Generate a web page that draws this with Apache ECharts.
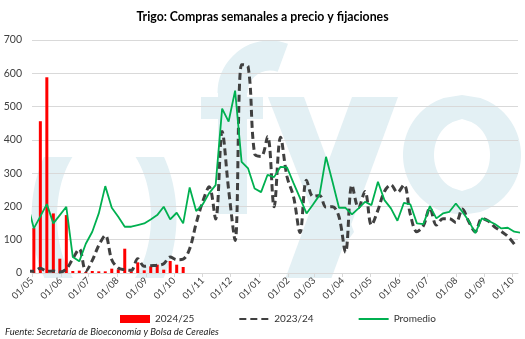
<!DOCTYPE html>
<html><head><meta charset="utf-8">
<script src="https://cdn.jsdelivr.net/npm/echarts@6/dist/echarts.min.js"></script>
<style>html,body{margin:0;padding:0;background:#fff}#c{width:525px;height:339px}</style>
</head><body><div id="c"></div>
<script>
// ---- data ----
const titleText = 'Trigo: Compras semanales a precio y fijaciones';
const sourceText = 'Fuente: Secretaría de Bioeconomía y Bolsa de Cereales';
const seriesNames = ['2024/25', '2023/24', 'Promedio'];
// weekly points start on this date (first point sits just before the axis start)
const firstWeek = '2024-04-26';
// 2024/25 bars, weekly from 2024-05-03
const bars2425 = [135, 456, 588, 179, 43, 174, 6, 7, 3, 6, 5, 5, 13, 11, 73, 5, 32, 8, 20, 25, 10, 36, 25, 18];
// 2023/24 dashed line, weekly from 2024-04-26
const line2324 = [6, 5, 14, 5, 6, 3, 12, 43, 72, 6, 38, 83, 113, 40, 15, 10, 8, 43, 20, 22, 23, 28, 48, 40, 42,
  73, 149, 214, 259, 162, 425, 250, 98, 626, 620, 358, 350, 410, 199, 408, 289, 229, 122, 279, 230, 233, 198,
  199, 169, 62, 264, 196, 245, 144, 189, 245, 265, 242, 265, 175, 124, 142, 195, 144, 163, 163, 152, 192, 154,
  124, 164, 156, 138, 125, 110, 87];
// Promedio line, weekly from 2024-04-26
const promedio = [210, 134, 170, 207, 149, 174, 199, 48, 35, 88, 124, 179, 261, 196, 169, 139, 139, 144, 149,
  161, 174, 199, 161, 181, 149, 257, 186, 206, 240, 264, 494, 455, 548, 334, 314, 254, 243, 295, 288, 319, 317,
  270, 225, 179, 206, 234, 349, 274, 196, 196, 176, 194, 214, 204, 274, 219, 194, 157, 211, 206, 149, 147, 201,
  164, 179, 184, 209, 184, 156, 120, 164, 157, 147, 134, 136, 124, 121];
const tickDates = ['2024-05-01','2024-06-01','2024-07-01','2024-08-01','2024-09-01','2024-10-01','2024-11-01',
  '2024-12-01','2025-01-01','2025-02-01','2025-03-01','2025-04-01','2025-05-01','2025-06-01','2025-07-01',
  '2025-08-01','2025-09-01','2025-10-01'];
const tickLabels = ['01/05','01/06','01/07','01/08','01/09','01/10','01/11','01/12','01/01','01/02','01/03',
  '01/04','01/05','01/06','01/07','01/08','01/09','01/10'];
const yTicks = [0, 100, 200, 300, 400, 500, 600, 700];

// ---- helpers ----
const DAY = 86400000;
const T0 = Date.UTC(2024, 4, 1);
function dayNum(y, m, d){ return Math.round((Date.UTC(y, m, d) - T0) / DAY); }
function ds(s){ const p = s.split('-').map(Number); return dayNum(p[0], p[1]-1, p[2]); }
const W0 = ds(firstWeek);
function weekDay(i){ return W0 + 7*i; }
const tickVals = tickDates.map(ds);
const labelMap = {}; tickVals.forEach((v,i)=>{ labelMap[v] = tickLabels[i]; });
const barData = bars2425.map((v,i)=>[weekDay(i+1), v]);
const dashData = line2324.map((v,i)=>[weekDay(i), v]);
const avgData = promedio.map((v,i)=>[weekDay(i), v]);

// watermark (decorative) ellipse bands
const WM = '#e3f0f4';
function band(cx, cy, a, b, a0, b0, yTop, yBot, side){
  const y0 = Math.max(yTop, cy-b), y1 = Math.min(yBot, cy+b);
  const pts = [], n = 40;
  for (let k=0;k<=n;k++){ const y=y0+(y1-y0)*k/n; const d=(y-cy)/b; pts.push([cx+side*a*Math.sqrt(Math.max(0,1-d*d)), y]); }
  for (let k=n;k>=0;k--){ const y=y0+(y1-y0)*k/n; const d=(y-cy)/b0; const h = Math.abs(d)<1 ? a0*Math.sqrt(1-d*d) : 0; pts.push([cx+side*h, y]); }
  return {type:'polygon', z:-10, silent:true, shape:{points:pts}, style:{fill:WM}};
}
const wm = [
  band(104, 217, 72.5, 107, 47, 81, 157, 290, -1),
  band(104, 217, 72.5, 107, 47, 81, 157, 290, 1),
  {type:'rect', z:-10, silent:true, shape:{x:218, y:90, width:29, height:124}, style:{fill:WM}},
  {type:'rect', z:-10, silent:true, shape:{x:201, y:97, width:62, height:22}, style:{fill:WM}},
  {type:'arc', z:-10, silent:true, shape:{cx:270, cy:93, r:37.5, startAngle:Math.PI, endAngle:Math.PI*1.5+0.35, clockwise:true},
    style:{stroke:WM, lineWidth:30, fill:null}},
  {type:'polygon', z:-10, silent:true, shape:{points:[[268,97],[304,97],[354,232],[332,262]]}, style:{fill:WM}},
  {type:'polygon', z:-10, silent:true, shape:{points:[[352,97],[398,97],[330,282],[284,282]]}, style:{fill:WM}},
  band(462, 155, 59, 60, 28, 35, 90, 220, -1),
  band(462, 155, 59, 60, 28, 35, 90, 220, 1),
  {type:'rect', z:-5, silent:true, shape:{x:0, y:278, width:525, height:61}, style:{fill:'#fff'}},
  {type:'text', z:5, silent:true, left:5, top:327, style:{text:sourceText, fill:'#222', font:'italic 9.5px Lato'}}
];

const chart = echarts.init(document.getElementById('c'), null, {renderer:'canvas'});
chart.setOption({
  animation:false,
  backgroundColor:'#fff',
  title:{text:titleText, left:'center', top:6, textStyle:{fontFamily:'Lato', fontSize:12.3, fontWeight:'bold', color:'#000'}},
  grid:{left:32, right:7, top:40, bottom:66},
  legend:{left:115, top:309, itemWidth:30, itemHeight:8, itemGap:44,
    textStyle:{fontFamily:'Lato', fontSize:10, color:'#333'},
    data:[{name:seriesNames[0], icon:'rect'},
          {name:seriesNames[1], itemStyle:{opacity:0}},
          {name:seriesNames[2], itemStyle:{opacity:0}}]},
  graphic: wm,
  xAxis:{type:'value', min:ds('2024-05-01'), max:ds('2025-10-07'),
    axisLine:{lineStyle:{color:'#d9d9d9'}},
    axisTick:{show:true, customValues:tickVals, length:4, lineStyle:{color:'#d9d9d9'}},
    axisLabel:{customValues:tickVals, rotate:45, margin:6, fontFamily:'Lato', fontSize:9.5, color:'#404040',
      formatter:(v)=>labelMap[v] || ''},
    splitLine:{show:false}},
  yAxis:{type:'value', min:yTicks[0], max:yTicks[yTicks.length-1], interval:100,
    axisLine:{show:false}, axisTick:{show:false},
    axisLabel:{fontFamily:'Lato', fontSize:10.5, color:'#404040', margin:10},
    splitLine:{lineStyle:{color:'#d9d9d9', width:1}}},
  series:[
    {name:seriesNames[0], type:'bar', data:barData, barWidth:3, itemStyle:{color:'#ff0000'}},
    {name:seriesNames[1], type:'line', data:dashData, symbol:'none', smooth:0.35, clip:true,
      itemStyle:{color:'#404040'}, lineStyle:{color:'#404040', width:3, type:[7,4]}},
    {name:seriesNames[2], type:'line', data:avgData, symbol:'none', clip:true,
      itemStyle:{color:'#00b050'}, lineStyle:{color:'#00b050', width:1.8}}
  ]
});
</script></body></html>
